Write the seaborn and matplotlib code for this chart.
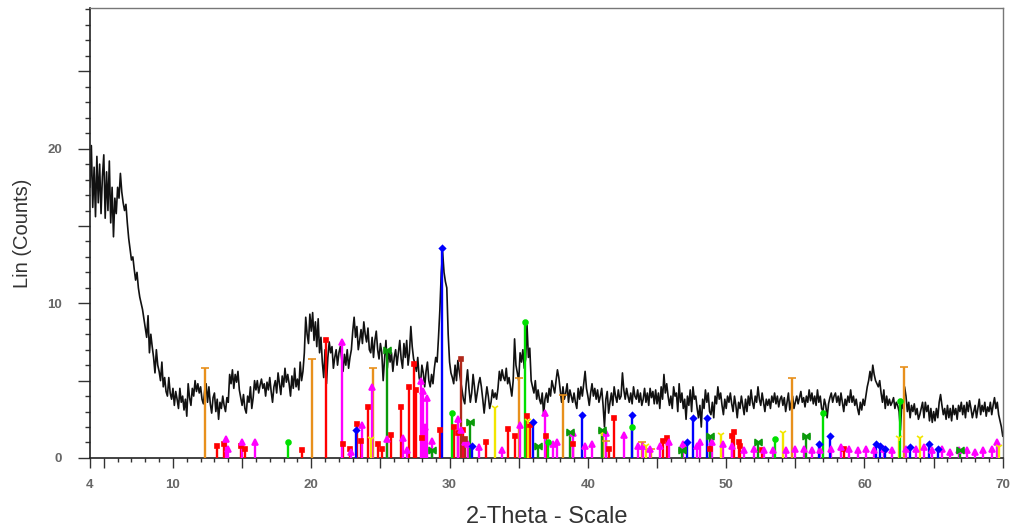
import numpy as np
import matplotlib
matplotlib.use("Agg")
import matplotlib.pyplot as plt
import seaborn as sns

# measured pattern, 4.0 .. 70.0 deg in 0.1 deg steps (one row per degree)
counts = [
    17.5, 20.2, 16.2, 18.8, 15.6, 19.5, 16.5, 19.0, 15.8, 18.2,   # 4
    19.6, 15.5, 18.5, 16.0, 19.2, 15.2, 17.5, 14.3, 16.8, 15.8,   # 5
    17.5, 16.8, 18.4, 17.2, 16.5, 16.0, 16.4, 15.2, 14.2, 13.5,   # 6
    12.8, 13.0, 12.2, 11.5, 12.0, 11.0, 10.4, 10.0, 9.6, 9.0,     # 7
    8.4, 7.8, 9.2, 6.8, 8.0, 7.2, 6.5, 5.5, 7.0, 6.0,             # 8
    5.6, 5.0, 6.2, 4.6, 5.2, 4.3, 4.0, 5.2, 4.2, 3.8,             # 9
    4.5, 3.4, 4.3, 3.8, 3.2, 4.5, 3.6, 4.0, 3.1, 3.8,             # 10
    2.7, 4.8, 3.9, 3.4, 4.5, 4.0, 5.0, 4.3, 4.8, 4.2,             # 11
    4.6, 3.8, 3.5, 4.4, 4.8, 3.6, 4.6, 3.5, 2.9, 3.9,             # 12
    4.2, 3.0, 3.8, 2.5, 3.6, 3.2, 4.0, 3.4, 3.0, 3.9,             # 13
    3.6, 5.4, 4.8, 5.7, 4.5, 5.4, 4.9, 5.6, 4.4, 3.9,             # 14
    3.4, 4.1, 3.2, 2.9, 4.0, 3.6, 4.6, 3.2, 3.9, 5.0,             # 15
    4.4, 5.0, 4.2, 4.7, 5.1, 4.5, 4.8, 4.0, 4.9, 4.4,             # 16
    5.2, 4.3, 3.6, 4.6, 5.0, 4.2, 5.5, 4.8, 4.1, 5.3,             # 17
    4.6, 5.8, 4.9, 5.4, 4.8, 4.0, 5.3, 4.5, 5.8, 4.6,             # 18
    5.1, 4.4, 6.2, 5.0, 5.6, 6.8, 9.1, 8.0, 7.4, 9.3,             # 19
    8.2, 9.4, 7.6, 8.8, 7.2, 9.0, 6.8, 7.8, 6.2, 5.2,             # 20
    7.0, 4.8, 6.5, 7.5, 6.8, 7.2, 5.8, 6.5, 7.0, 6.0,             # 21
    6.8, 7.2, 6.4, 5.6, 6.7, 6.0, 7.0, 5.8, 6.5, 7.0,             # 22
    8.2, 9.1, 7.8, 8.5, 7.0, 7.6, 8.3, 7.4, 8.8, 8.0,             # 23
    7.5, 8.4, 7.0, 6.8, 7.8, 6.5, 7.6, 8.2, 7.0, 6.4,             # 24
    7.4, 6.8, 5.0, 6.4, 7.6, 5.8, 7.0, 6.2, 6.8, 5.6,             # 25
    6.5, 7.0, 6.0, 6.8, 7.6, 6.4, 5.8, 7.4, 6.5, 7.6,             # 26
    6.0, 6.8, 8.5, 7.2, 6.4, 6.1, 5.6, 6.5, 5.2, 4.8,             # 27
    6.0, 5.5, 4.6, 5.6, 6.2, 5.0, 4.6, 5.4, 4.8, 5.8,             # 28
    6.5, 6.2, 7.8, 9.6, 12.0, 13.3, 12.0, 11.4, 11.0, 8.0,        # 29
    6.2, 5.5, 5.2, 4.8, 6.0, 5.0, 6.3, 5.6, 5.0, 4.4,             # 30
    3.8, 3.5, 4.8, 5.7, 4.5, 3.6, 4.2, 5.4, 4.6, 3.6,             # 31
    4.2, 4.8, 5.2, 4.6, 3.8, 2.9, 3.8, 4.6, 4.0, 3.2,             # 32
    3.6, 4.4, 3.9, 4.2, 3.8, 4.5, 5.6, 5.0, 5.7, 5.2,             # 33
    5.0, 5.8, 4.8, 5.2, 4.6, 4.0, 5.0, 7.7, 6.0, 5.5,             # 34
    5.0, 6.8, 6.2, 7.0, 5.8, 6.4, 8.6, 6.5, 7.1, 5.0,             # 35
    4.6, 4.2, 5.0, 3.8, 4.4, 3.8, 3.5, 4.2, 2.8, 3.8,             # 36
    4.2, 3.6, 4.5, 4.0, 5.0, 4.6, 4.2, 5.0, 5.7, 5.2,             # 37
    4.4, 3.6, 4.6, 3.8, 4.2, 4.8, 3.6, 4.4, 4.0, 3.6,             # 38
    4.2, 3.6, 3.2, 4.5, 3.8, 4.6, 4.0, 4.8, 5.6, 4.5,             # 39
    4.0, 3.4, 4.2, 4.8, 4.0, 4.5, 3.8, 4.4, 3.6, 4.0,             # 40
    4.5, 3.4, 2.0, 3.8, 4.3, 2.9, 3.6, 4.2, 3.4, 4.6,             # 41
    4.0, 3.6, 4.4, 3.8, 4.0, 5.5, 4.4, 3.8, 4.5, 4.0,             # 42
    3.6, 4.2, 3.5, 4.6, 4.0, 3.8, 4.4, 3.6, 4.2, 3.4,             # 43
    3.8, 4.5, 3.6, 4.2, 3.4, 4.5, 3.9, 4.3, 3.5, 4.4,             # 44
    3.5, 4.2, 3.2, 4.6, 3.8, 5.4, 4.2, 4.8, 4.0, 3.4,             # 45
    4.0, 3.2, 4.6, 4.0, 4.2, 3.0, 4.8, 3.6, 4.2, 3.2,             # 46
    3.8, 2.5, 4.0, 3.4, 4.4, 3.0, 4.6, 3.8, 4.0, 3.2,             # 47
    2.6, 3.4, 2.0, 3.8, 3.2, 4.4, 3.6, 4.2, 3.0, 2.8,             # 48
    3.6, 2.6, 4.0, 3.5, 4.6, 3.8, 4.2, 3.4, 2.8, 3.8,             # 49
    3.2, 4.0, 3.6, 4.2, 3.5, 3.0, 4.0, 3.4, 2.6, 3.6,             # 50
    3.2, 4.0, 3.4, 2.8, 3.8, 3.0, 4.0, 3.4, 4.4, 3.6,             # 51
    3.2, 4.0, 3.6, 4.6, 3.8, 3.4, 4.2, 3.6, 3.0, 3.8,             # 52
    3.4, 3.8, 3.2, 4.0, 3.6, 4.2, 3.5, 4.0, 3.3, 3.8,             # 53
    4.0, 3.4, 3.9, 3.0, 3.6, 4.2, 3.1, 3.6, 4.0, 3.2,             # 54
    3.6, 4.0, 3.5, 3.9, 4.3, 3.6, 3.9, 3.3, 4.0, 3.6,             # 55
    4.4, 3.7, 4.2, 3.5, 4.0, 3.4, 4.4, 3.6, 4.0, 3.2,             # 56
    3.0, 3.8, 3.4, 2.6, 3.5, 3.9, 4.2, 3.6, 4.0, 4.2,             # 57
    3.6, 4.0, 3.4, 4.2, 3.6, 3.0, 3.8, 3.4, 4.0, 3.6,             # 58
    4.4, 3.6, 4.0, 3.4, 3.8, 3.2, 2.8, 3.6, 3.1, 3.8,             # 59
    3.4, 4.0, 4.6, 5.0, 5.6, 5.0, 6.0, 5.4, 5.0, 4.8,             # 60
    4.6, 5.0, 4.2, 3.6, 4.4, 3.2, 4.0, 3.4, 3.8, 3.4,             # 61
    3.6, 3.9, 3.2, 3.6, 3.4, 3.0, 1.8, 3.6, 3.2, 4.6,             # 62
    4.0, 3.0, 3.6, 2.6, 3.4, 3.0, 3.5, 2.8, 3.2, 2.5,             # 63
    2.8, 3.2, 3.6, 2.6, 3.6, 3.0, 3.4, 2.4, 3.2, 2.3,             # 64
    3.0, 2.4, 3.2, 2.6, 3.6, 4.1, 3.4, 2.8, 3.2, 2.5,             # 65
    3.4, 2.6, 3.2, 2.4, 3.4, 2.8, 3.2, 2.5, 3.4, 3.0,             # 66
    3.6, 2.8, 3.4, 2.6, 3.6, 3.0, 3.7, 3.2, 2.6, 3.0,             # 67
    3.4, 2.6, 3.2, 3.8, 2.8, 3.4, 3.0, 3.6, 2.7, 3.3,             # 68
    3.0, 3.6, 2.8, 3.4, 3.9, 3.2, 3.6, 2.8, 2.4, 2.0,             # 69
    1.4,
]
two_theta = np.linspace(4, 70, len(counts))

# reference phases: stick positions (deg) and heights (counts)
orange_pos = [12.3, 20.05, 24.5, 35.0, 38.2, 41.1, 41.3, 43.9, 44.6, 54.75, 62.85]
orange_h = [5.8, 6.4, 5.8, 5.2, 4.1, 1.6, 1.1, 1.0, 0.6, 5.2, 5.9]

red_pos = [13.2, 13.7, 14.9, 15.2, 19.3, 21.05, 22.3, 22.8, 23.3, 23.6, 24.1, 24.8,
           25.1, 25.8, 26.5, 27.1, 27.4, 27.6, 28.0, 29.3, 30.3, 30.6, 31.0, 32.6,
           34.2, 34.7, 35.6, 35.8, 37.0, 38.9, 41.5, 41.9, 45.4, 45.7, 48.8, 50.4,
           50.6, 50.9, 51.0, 52.6, 58.5]
red_h = [0.8, 0.9, 0.8, 0.6, 0.5, 7.6, 0.9, 0.6, 2.2, 1.1, 3.3, 0.9,
         0.6, 1.5, 3.3, 4.6, 6.1, 4.4, 1.3, 1.8, 2.0, 1.6, 1.8, 1.0,
         1.9, 1.4, 2.7, 2.1, 1.4, 0.9, 0.6, 2.6, 1.1, 1.3, 0.6, 1.4,
         1.7, 1.0, 0.8, 0.5, 0.6]

magenta_pos = [13.8, 14.0, 15.0, 15.9, 22.2, 22.9, 23.7, 24.4, 25.5, 26.6, 26.9,
               27.9, 28.1, 28.25, 28.4, 28.7, 30.6, 30.8, 31.1, 31.3, 32.1, 33.8,
               35.1, 36.9, 37.5, 37.8, 38.9, 39.8, 40.3, 41.3, 42.6, 43.6, 44.0,
               44.5, 45.2, 45.9, 46.9, 47.9, 48.1, 49.0, 49.8, 50.4, 51.3, 52.0,
               52.7, 53.4, 54.3, 55.0, 55.6, 56.2, 56.8, 57.6, 58.3, 58.9, 59.5,
               60.1, 60.7, 61.4, 62.0, 63.0, 63.7, 64.3, 64.9, 65.6, 66.2, 66.8,
               67.4, 68.0, 68.6, 69.2, 69.6]
magenta_h = [1.2, 0.6, 1.0, 1.0, 7.5, 0.4, 2.1, 4.6, 1.2, 1.3, 0.5,
             5.0, 4.3, 2.0, 3.9, 1.1, 2.5, 1.8, 1.0, 0.9, 0.7, 0.5,
             2.1, 2.9, 0.9, 1.0, 1.6, 0.8, 0.9, 1.6, 1.5, 0.8, 0.8,
             0.6, 0.8, 1.0, 0.9, 0.8, 1.0, 1.0, 0.9, 0.8, 0.5, 0.6,
             0.5, 0.5, 0.5, 0.6, 0.6, 0.5, 0.5, 0.6, 0.7, 0.6, 0.5,
             0.6, 0.5, 0.6, 0.5, 0.6, 0.6, 0.7, 0.5, 0.6, 0.4, 0.5,
             0.5, 0.4, 0.5, 0.6, 1.0]

lime_pos = [18.3, 30.2, 35.45, 37.1, 43.2, 53.5, 57.0, 62.6]
lime_h = [1.0, 2.9, 8.8, 1.0, 2.0, 1.2, 2.9, 3.7]

green_pos = [25.45, 28.7, 31.5, 36.4, 38.7, 41.0, 46.8, 48.8, 52.3, 55.8, 66.9]
green_h = [7.0, 0.5, 2.3, 0.8, 1.7, 1.8, 0.5, 1.4, 1.0, 1.4, 0.5]

blue_pos = [23.2, 29.45, 31.6, 36.0, 39.6, 43.2, 47.2, 47.6, 48.6, 56.7, 57.5,
            60.8, 61.1, 61.5, 63.3, 64.7, 65.3]
blue_h = [1.8, 13.6, 0.8, 2.3, 2.8, 2.8, 1.0, 2.6, 2.6, 0.9, 1.4,
          0.9, 0.8, 0.6, 0.7, 0.9, 0.6]

yellow_pos = [24.3, 33.3, 35.7, 41.0, 44.2, 49.6, 54.1, 62.5, 64.0, 69.7]
yellow_h = [1.2, 3.2, 2.4, 1.6, 0.8, 1.5, 1.6, 1.3, 1.3, 0.7]

darkred_pos = [30.85, 31.1]
darkred_h = [6.4, 1.2]

phases = [
    (orange_pos, orange_h, "#e8901c", "_", 6),
    (red_pos, red_h, "#ff0000", "s", 3.5),
    (magenta_pos, magenta_h, "#ff00ff", "^", 4),
    (yellow_pos, yellow_h, "#f2e600", "1", 5),
    (green_pos, green_h, "#0a9a0a", r"$\bowtie$", 5),
    (lime_pos, lime_h, "#00e000", "o", 3.5),
    (darkred_pos, darkred_h, "#b0281a", "s", 3),
    (blue_pos, blue_h, "#0000ff", "D", 3),
]

sns.set_style("white")
plt.rcParams["font.family"] = ["Liberation Sans", "DejaVu Sans"]

fig = plt.figure(figsize=(10.12, 5.27), dpi=100)
ax = fig.add_axes([0.0889, 0.131, 0.902, 0.854])

sns.lineplot(x=two_theta, y=counts, color="#111111", lw=1.2, estimator=None,
             sort=False, ax=ax, zorder=2)

for pos, h, col, mk, ms in phases:
    ax.vlines(pos, 0, h, colors=col, lw=1.7, zorder=3)
    ax.plot(pos, h, ls="none", marker=mk, color=col, ms=ms, mew=1.2, zorder=4)

ax.set_xlim(4, 70)
ax.set_ylim(0, 29.1)

xmaj = [4] + list(range(5, 71, 5))
ax.set_xticks(xmaj)
ax.set_xticklabels([str(t) if (t == 4 or t % 10 == 0) else "" for t in xmaj])
ax.set_xticks(range(4, 71), minor=True)
ymaj = list(range(0, 30, 5))
ax.set_yticks(ymaj)
ax.set_yticklabels([str(t) if t % 10 == 0 else "" for t in ymaj])
ax.set_yticks(range(0, 30), minor=True)

ax.tick_params(axis="both", which="both", bottom=True, left=True,
               direction="out", color="#333", width=1)
ax.tick_params(axis="both", which="major", labelsize=9.5, labelcolor="#666")
ax.tick_params(axis="y", which="major", length=9, pad=11)
ax.tick_params(axis="y", which="minor", length=3.6)
ax.tick_params(axis="x", which="major", length=7, pad=8)
ax.tick_params(axis="x", which="minor", length=3)
for lbl in ax.get_xticklabels() + ax.get_yticklabels():
    lbl.set_fontweight("bold")

for side in ["left", "bottom"]:
    ax.spines[side].set_color("#222")
    ax.spines[side].set_linewidth(1.2)
for side in ["top", "right"]:
    ax.spines[side].set_color("#777")
    ax.spines[side].set_linewidth(1.0)

ax.set_xlabel("2-Theta - Scale", fontsize=17, color="#333", labelpad=11)
ax.set_ylabel("Lin (Counts)", fontsize=14.5, color="#333", labelpad=11)

fig.savefig("out.png", dpi=100)
